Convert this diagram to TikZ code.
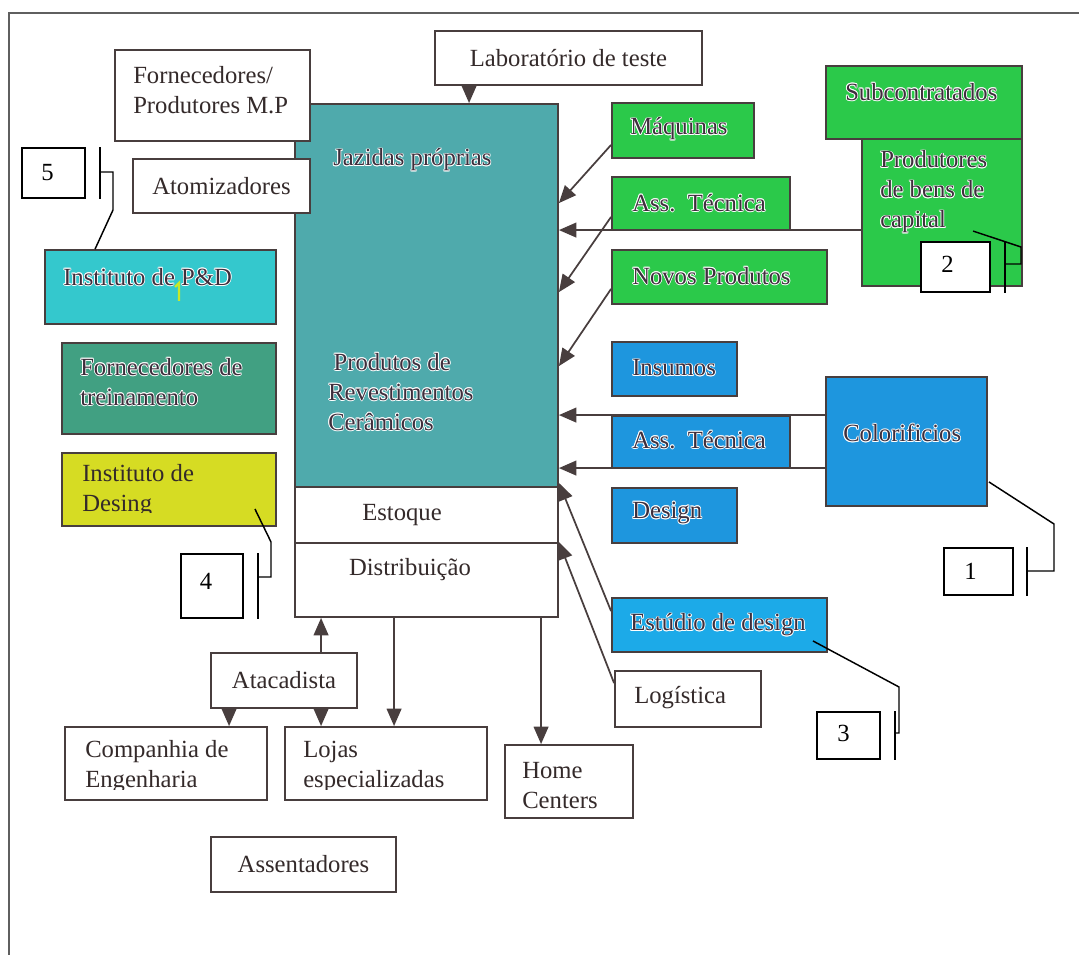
\documentclass[tikz,border=0pt]{standalone}
\usepackage{fontspec}
\setmainfont{Liberation Serif}
\usetikzlibrary{arrows.meta,fit,calc}

\definecolor{edge}{RGB}{72,62,62}
\definecolor{ink}{RGB}{52,42,42}
\definecolor{haloink}{RGB}{62,46,60}
\definecolor{framegray}{RGB}{95,95,95}
\definecolor{tealbox}{RGB}{79,170,172}
\definecolor{pdcyan}{RGB}{52,200,205}
\definecolor{trein}{RGB}{65,160,130}
\definecolor{desyel}{RGB}{214,220,35}
\definecolor{grn}{RGB}{43,201,74}
\definecolor{blu}{RGB}{30,150,222}
\definecolor{blulight}{RGB}{28,170,232}
\definecolor{cursor}{RGB}{200,232,40}

% dark label with a thin white halo (white copies first, dark text on top)
\newcommand{\halocopy}[3]{\rlap{\kern#1\raisebox{#2}{\color{white}#3}}}
\newcommand{\hl}[1]{\leavevmode\hbox{%
  \halocopy{0.6pt}{0pt}{#1}\halocopy{-0.6pt}{0pt}{#1}%
  \halocopy{0pt}{0.6pt}{#1}\halocopy{0pt}{-0.6pt}{#1}%
  \halocopy{0.42pt}{0.42pt}{#1}\halocopy{-0.42pt}{0.42pt}{#1}%
  \halocopy{0.42pt}{-0.42pt}{#1}\halocopy{-0.42pt}{-0.42pt}{#1}%
  {\color{haloink}#1}}}

\begin{document}
\begin{tikzpicture}[x=0.75pt, y=-0.75pt,
  font=\fontsize{18.5}{22.5}\selectfont,
  box/.style={draw=edge, line width=1.4pt, inner sep=0pt, rectangle},
  txt/.style={inner sep=0pt, text=ink, anchor=west, align=left},
  arr/.style={draw=edge, line width=1.3pt, -{Triangle[length=13pt,width=11pt]}},
  callbox/.style={draw=black, line width=1pt, fill=white, inner sep=0pt, rectangle},
  callline/.style={draw=black, line width=1.1pt},
  num/.style={inner sep=0pt, text=black}]

\useasboundingbox (0,0) rectangle (1079,955);
\fill[white] (0,0) rectangle (1079,955);

% page frame
\draw[framegray, line width=1.1pt] (9,955) -- (9,13) -- (1079,13);

% central firm block
\node[box, fill=tealbox, fit={(295,104) (558,487)}] (prod) {};
\node[box, fill=white, fit={(295,487) (558,543)}] (est) {};
\node[box, fill=white, fit={(295,543) (558,617)}] (dist) {};

% suppliers on the left and on top
\node[box, fill=white, fit={(115,50) (310,141)}] (forn) {};
\node[box, fill=white, fit={(133,159) (310,213)}] (atom) {};
\node[box, fill=white, fit={(435,31) (702,85)}] (lab) {};

\node[box, fill=pdcyan, fit={(45,250) (276,324)}] (pd) {};
\node[box, fill=trein, fit={(62,343) (276,434)}] (trein) {};
\node[box, fill=desyel, fit={(62,453) (276,526)}] (desg) {};

% capital goods group
\node[box, fill=grn, fit={(612,103) (754,158)}] (maq) {};
\node[box, fill=grn, fit={(612,177) (790,230)}] (ass1) {};
\node[box, fill=grn, fit={(612,250) (827,304)}] (novos) {};
\node[box, fill=grn, fit={(826,66) (1022,139)}] (sub) {};
\node[box, fill=grn, fit={(862,139) (1022,286)}] (pbc) {};

% colour/glaze group
\node[box, fill=blu, fit={(612,342) (737,396)}] (ins) {};
\node[box, fill=blu, fit={(612,416) (790,468)}] (ass2) {};
\node[box, fill=blu, fit={(612,488) (737,543)}] (design) {};
\node[box, fill=blu, fit={(826,377) (987,506)}] (color) {};
\node[box, fill=blulight, fit={(612,598) (827,652)}] (estud) {};

% distribution chain
\node[box, fill=white, fit={(211,653) (357,708)}] (ataca) {};
\node[box, fill=white, fit={(65,727) (267,800)}] (comp) {};
\node[box, fill=white, fit={(285,727) (487,800)}] (lojas) {};
\node[box, fill=white, fit={(505,745) (633,818)}] (home) {};
\node[box, fill=white, fit={(615,671) (761,727)}] (logist) {};
\node[box, fill=white, fit={(211,837) (396,892)}] (assent) {};

% labels
\node[txt, anchor=center] (labt) at (lab.center) {Laboratório de teste};
\node[txt] (fornt) at (133,90) {Fornecedores/\\Produtores M.P};
\node[txt, anchor=center] (atomt) at (atom.center) {Atomizadores};
\node[txt] (jazt) at (333,160) {\hl{Jazidas próprias}};
\node[txt] (prodt) at (328,392) {\hspace*{4pt}\hl{Produtos de}\\\hl{Revestimentos}\\\hl{Cerâmicos}};
\node[txt, anchor=center] (estt) at (402,515) {Estoque};
\node[txt, anchor=center] (distt) at (410,570) {Distribuição};

\node[txt] (maqt) at (630,129) {\hl{Máquinas}};
\node[txt] (ass1t) at (632,203) {\hl{Ass.\ \ Técnica}};
\node[txt] (novost) at (632,276) {\hl{Novos Produtos}};
\node[txt] (subt) at (845,92) {\hl{Subcontratados}};
\node[txt] (pbct) at (880,192) {\hl{Produtores}\\\hl{de bens de}\\\hl{capital}};

\node[txt] (inst) at (632,368) {\hl{Insumos}};
\node[txt] (ass2t) at (632,440) {\hl{Ass.\ \ Técnica}};
\node[txt] (designt) at (632,513) {\hl{Design}};
\node[txt] (colort) at (843,433) {\hl{Colorificios}};
\node[txt] (estudt) at (630,625) {\hl{Estúdio de design}};

\node[txt] (pdt) at (63,277) {\hl{Instituto de P\&D}};
\node[txt] (treint) at (80,382) {\hl{Fornecedores de}\\\hl{treinamento}};
\begin{scope}
  \clip (62,453) rectangle (276,513);
  \node[txt] (desgt) at (82,491) {Instituto de\\Desing};
\end{scope}

\begin{scope}
  \clip (65,727) rectangle (487,789);
  \node[txt] (compt) at (85,767) {Companhia de\\Engenharia};
  \node[txt] (lojast) at (303,767) {Lojas\\especializadas};
\end{scope}
\node[txt] (homet) at (522,786) {Home\\Centers};
\node[txt, anchor=center] (atacat) at (ataca.center) {Atacadista};
\node[txt] (logistt) at (634,698) {Logística};
\node[txt, anchor=center] (assentt) at (assent.center) {Assentadores};

% cursor mark left in the P&D box
\draw[cursor, line width=1.6pt] (175,287) -- (179,283) -- (179,301);

% flows into the firm
\coordinate (labx) at ($(lab.south west)+(35,0)$);
\draw[arr] (labx) -- (labx |- prod.north);

\draw[arr] ($(maq.south west)+(0,-14)$) -- ($(prod.north east)+(0,100)$);
\coordinate (pbcA) at ($(pbc.north west)+(0,92)$);
\draw[arr] (pbcA) -- (pbcA -| prod.east);
\draw[arr] ($(ass1.south west)+(0,-14)$) -- ($(prod.north east)+(0,189)$);
\draw[arr] ($(novos.south west)+(0,-16)$) -- ($(prod.north east)+(0,263)$);
\coordinate (colA) at ($(color.north west)+(0,39)$);
\coordinate (colB) at ($(color.north west)+(0,92)$);
\draw[arr] (colA) -- (colA -| prod.east);
\draw[arr] (colB) -- (colB -| prod.east);
\draw[arr] ($(estud.north west)+(0,14)$) -- ($(prod.south east)+(0,-5)$);
\draw[arr] ($(logist.north west)+(0,13)$) -- ($(est.south east)+(0,-2)$);

% distribution flows
\coordinate (a1) at ($(ataca.north west)+(111,0)$);
\coordinate (a2) at ($(ataca.south west)+(19,0)$);
\coordinate (a3) at ($(ataca.south west)+(111,0)$);
\coordinate (d1) at ($(dist.south west)+(100,0)$);
\coordinate (d2) at ($(dist.south west)+(247,0)$);
\draw[arr] (a1) -- (a1 |- dist.south);
\draw[arr] (a2) -- (a2 |- comp.north);
\draw[arr] (a3) -- (a3 |- lojas.north);
\draw[arr] (d1) -- (d1 |- lojas.north);
\draw[arr] (d2) -- (d2 |- home.north);

% numbered callouts
\node[callbox, fit={(22,148) (85,198)}] (c5) {};
\node[num] at ($(c5.center)+(-6,0)$) {5};
\node[callbox, fit={(921,242) (990,292)}] (c2) {};
\node[num] at ($(c2.center)+(-8,-3)$) {2};
\node[callbox, fit={(944,548) (1013,595)}] (c1) {};
\node[num] at ($(c1.center)+(-8,0)$) {1};
\node[callbox, fit={(181,554) (243,618)}] (c4) {};
\node[num] at ($(c4.center)+(-6,-5)$) {4};
\node[callbox, fit={(817,712) (880,759)}] (c3) {};
\node[num] at ($(c3.center)+(-5,-2)$) {3};

\coordinate (c5s) at (100,172);
\coordinate (c2s) at (1005,264);
\coordinate (c1s) at (1027,571);
\coordinate (c4s) at (258,577);
\coordinate (c3s) at (895,733);

\coordinate (pdTip) at ($(pd.north west)+(51,0)$);
\coordinate (pbcTip) at ($(pbc.north west)+(112,93)$);
\coordinate (colTip) at ($(color.south east)+(1,-25)$);
\coordinate (desTip) at ($(desg.south east)+(-22,-18)$);
\coordinate (estTip) at ($(estud.south east)+(-15,-12)$);

\draw[callline] (c5s |- c5.north) -- (c5s |- c5.south);
\draw[callline] (c5s) -- ++(13,0) -- ++(0,38) -- (pdTip);
\draw[callline] (c2s |- c2.north) -- (c2s |- c2.south);
\draw[callline] (c2s) -- ++(16,0) -- ++(0,-17) -- (pbcTip);
\draw[callline] (c1s |- c1.north) -- (c1s |- c1.south);
\draw[callline] (c1s) -- ++(27,0) -- ++(0,-47) -- (colTip);
\draw[callline] (c4s |- c4.north) -- (c4s |- c4.south);
\draw[callline] (c4s) -- ++(13,0) -- ++(0,-35) -- (desTip);
\draw[callline] (c3s |- c3.north) -- (c3s |- c3.south);
\draw[callline] (c3s) -- ++(4,0) -- ++(0,-46) -- (estTip);

\end{tikzpicture}
\end{document}
